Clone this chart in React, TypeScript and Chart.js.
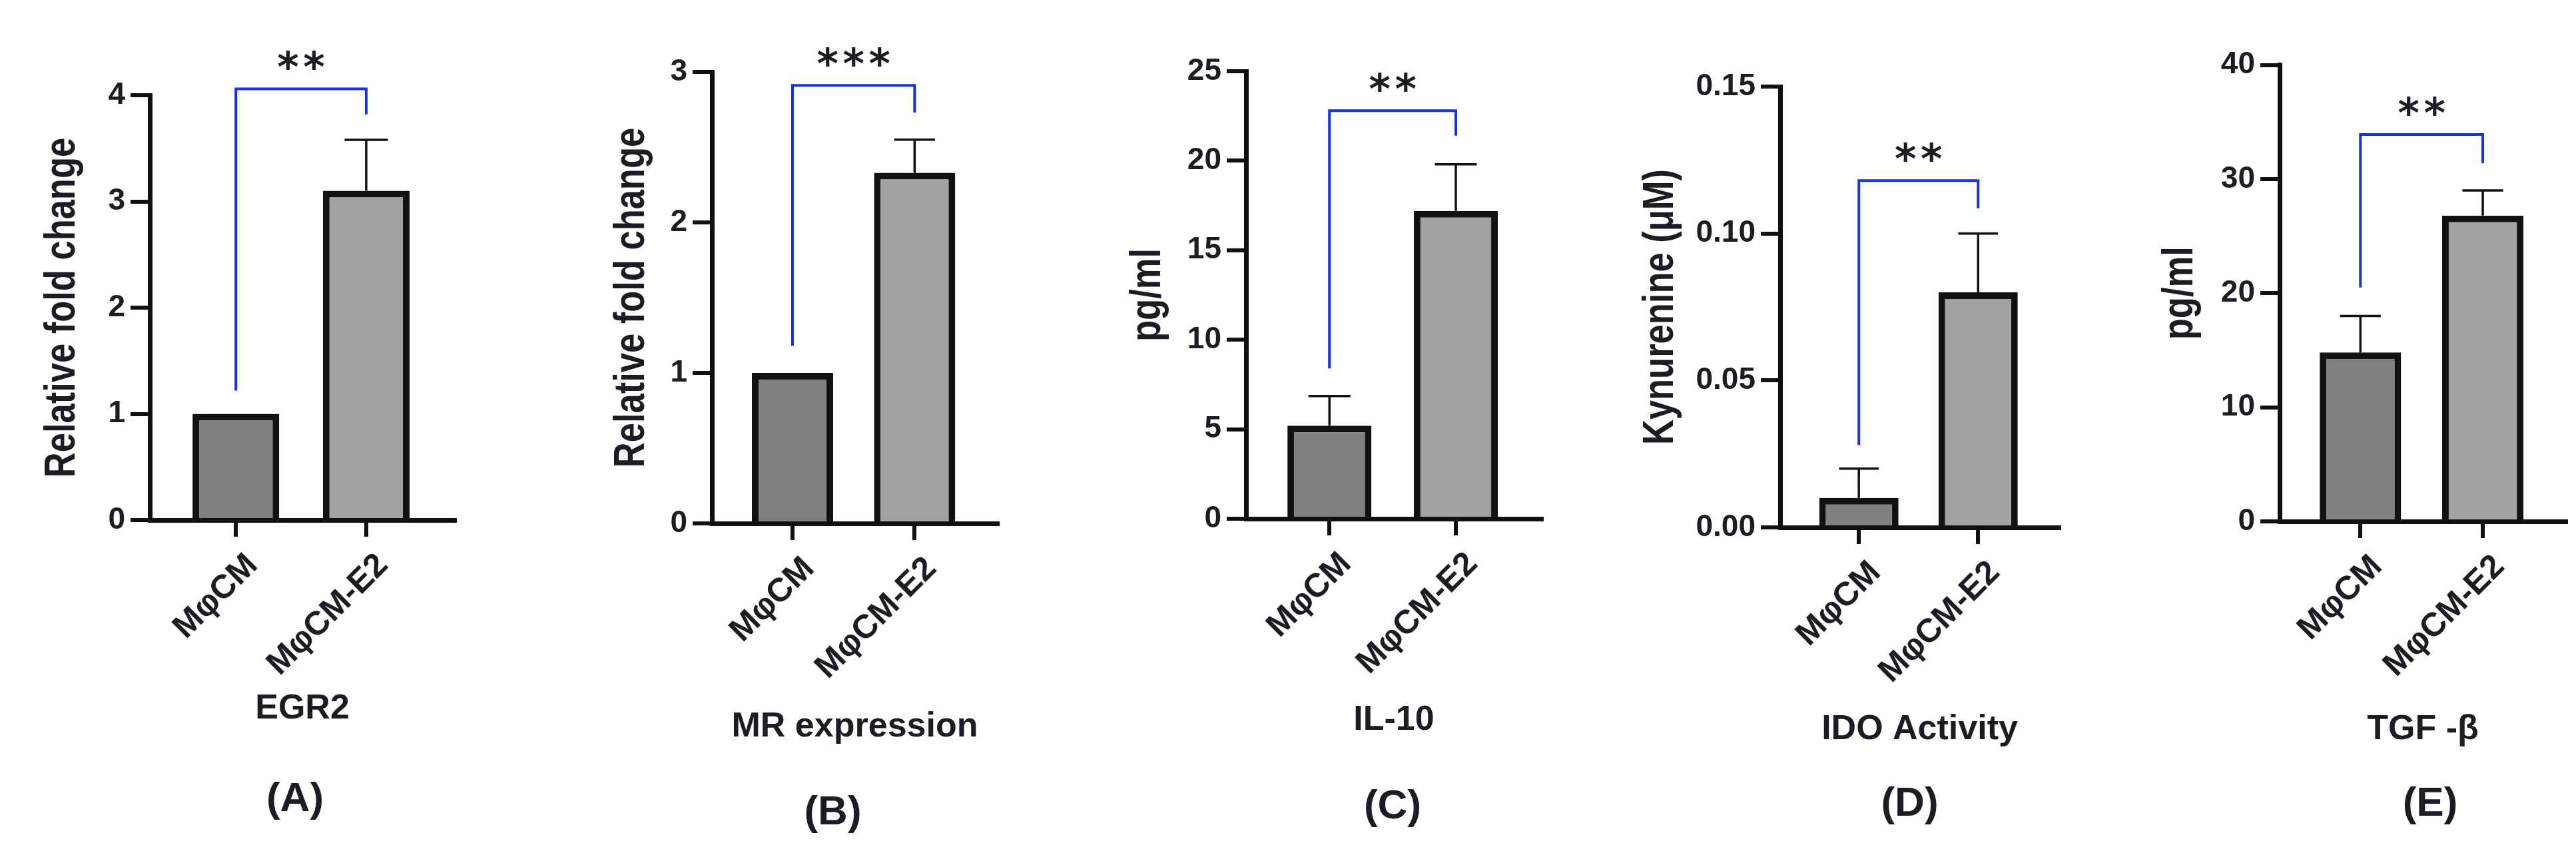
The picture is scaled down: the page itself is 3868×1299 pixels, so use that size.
import React, { useEffect, useRef } from 'react';
import { Chart, registerables } from 'chart.js';

Chart.register(...registerables);

// ---------------- data ----------------
const categories = ['MφCM', 'MφCM-E2'];

const egr2Mean = [1.0, 3.1];
const egr2Err = [0, 0.48];
const egr2Ticks = [0, 1, 2, 3, 4];
const egr2TickLabels = ['0', '1', '2', '3', '4'];
const egr2Bracket = [1.22, 4.06, 3.82]; // left leg end, top, right leg end
const egr2Stars = '**';

const mrMean = [1.0, 2.33];
const mrErr = [0, 0.22];
const mrTicks = [0, 1, 2, 3];
const mrTickLabels = ['0', '1', '2', '3'];
const mrBracket = [1.18, 2.91, 2.73];
const mrStars = '***';

const il10Mean = [5.2, 17.2];
const il10Err = [1.65, 2.6];
const il10Ticks = [0, 5, 10, 15, 20, 25];
const il10TickLabels = ['0', '5', '10', '15', '20', '25'];
const il10Bracket = [8.4, 22.8, 21.4];
const il10Stars = '**';

const idoMean = [0.01, 0.08];
const idoErr = [0.01, 0.02];
const idoTicks = [0, 0.05, 0.1, 0.15];
const idoTickLabels = ['0.00', '0.05', '0.10', '0.15'];
const idoBracket = [0.028, 0.118, 0.1086];
const idoStars = '**';

const tgfMean = [14.8, 26.8];
const tgfErr = [3.2, 2.2];
const tgfTicks = [0, 10, 20, 30, 40];
const tgfTickLabels = ['0', '10', '20', '30', '40'];
const tgfBracket = [20.5, 33.9, 31.4];
const tgfStars = '**';

const yTitles = ['Relative fold change', 'Relative fold change', 'pg/ml', 'Kynurenine (μM)', 'pg/ml'];
const xTitles = ['EGR2', 'MR expression', 'IL-10', 'IDO Activity', 'TGF -β'];
const panelLetters = ['(A)', '(B)', '(C)', '(D)', '(E)'];

// ---------------- layout / style ----------------
const W = 3868;
const H = 1299;
const INK = '#1c1c24';
const AXIS = '#111111';
const BLUE = '#1733e2';
const FILLS = ['#808080', '#a2a2a4'];

type Layout = {
  left: number; width: number; axisX: number; topY: number; baseY: number; rightX: number;
  yTitleDx: number; xTitleY: number; letterDx: number; letterY: number;
};

const layouts: Layout[] = [
  { left: 0, width: 760, axisX: 225, topY: 143, baseY: 781, rightX: 683, yTitleDx: -131, xTitleY: 1065, letterDx: -11, letterY: 1201 },
  { left: 760, width: 800, axisX: 1069, topY: 108, baseY: 786, rightX: 1498, yTitleDx: -120, xTitleY: 1092, letterDx: -33, letterY: 1221 },
  { left: 1560, width: 770, axisX: 1871, topY: 107, baseY: 779, rightX: 2315, yTitleDx: -147, xTitleY: 1082, letterDx: -2, letterY: 1212 },
  { left: 2330, width: 780, axisX: 2673, topY: 130, baseY: 792, rightX: 3092, yTitleDx: -179, xTitleY: 1096, letterDx: -15, letterY: 1208 },
  { left: 3110, width: 758, axisX: 3423, topY: 97.5, baseY: 783, rightX: 3853, yTitleDx: -149, xTitleY: 1096, letterDx: 11, letterY: 1208 },
];

type PanelData = {
  mean: number[]; err: number[]; ticks: number[]; tickLabels: string[];
  bracket: number[]; stars: string;
};

const panelData: PanelData[] = [
  { mean: egr2Mean, err: egr2Err, ticks: egr2Ticks, tickLabels: egr2TickLabels, bracket: egr2Bracket, stars: egr2Stars },
  { mean: mrMean, err: mrErr, ticks: mrTicks, tickLabels: mrTickLabels, bracket: mrBracket, stars: mrStars },
  { mean: il10Mean, err: il10Err, ticks: il10Ticks, tickLabels: il10TickLabels, bracket: il10Bracket, stars: il10Stars },
  { mean: idoMean, err: idoErr, ticks: idoTicks, tickLabels: idoTickLabels, bracket: idoBracket, stars: idoStars },
  { mean: tgfMean, err: tgfErr, ticks: tgfTicks, tickLabels: tgfTickLabels, bracket: tgfBracket, stars: tgfStars },
];

function overlayPlugin(idx: number) {
  const d = panelData[idx];
  const L = layouts[idx];
  return {
    id: 'overlay' + idx,
    afterDraw(chart: any) {
      const ctx: CanvasRenderingContext2D = chart.ctx;
      const xs = chart.scales.x;
      const ys = chart.scales.y;
      const area = chart.chartArea;
      const meta = chart.getDatasetMeta(0);
      ctx.save();

      // error bars (upper only)
      ctx.strokeStyle = AXIS;
      ctx.lineWidth = 3.5;
      ctx.lineCap = 'butt';
      d.mean.forEach((m, i) => {
        const e = d.err[i];
        if (!e) return;
        const el = meta.data[i];
        const cx = xs.getPixelForValue(i + 1);
        const y0 = ys.getPixelForValue(m);
        const y1 = ys.getPixelForValue(m + e);
        const half = el.width * 0.25;
        ctx.beginPath();
        ctx.moveTo(cx, y0);
        ctx.lineTo(cx, y1);
        ctx.moveTo(cx - half, y1);
        ctx.lineTo(cx + half, y1);
        ctx.stroke();
      });

      // significance bracket
      const xA = xs.getPixelForValue(1);
      const xB = xs.getPixelForValue(2);
      const yL = ys.getPixelForValue(d.bracket[0]);
      const yT = ys.getPixelForValue(d.bracket[1]);
      const yR = ys.getPixelForValue(d.bracket[2]);
      ctx.strokeStyle = BLUE;
      ctx.lineWidth = 4;
      ctx.lineJoin = 'miter';
      ctx.beginPath();
      ctx.moveTo(xA, yL);
      ctx.lineTo(xA, yT);
      ctx.lineTo(xB, yT);
      ctx.lineTo(xB, yR);
      ctx.stroke();

      // stars
      ctx.fillStyle = INK;
      ctx.font = 'bold 62px "DejaVu Sans"';
      ctx.textAlign = 'center';
      ctx.textBaseline = 'alphabetic';
      const m = ctx.measureText('*');
      const starOff = (m.actualBoundingBoxAscent - m.actualBoundingBoxDescent) / 2;
      const starY = yT - 43 + starOff;
      const n = d.stars.length;
      const gap = 39;
      const midX = (xA + xB) / 2;
      for (let i = 0; i < n; i++) {
        ctx.fillText(d.stars[i], midX + (i - (n - 1) / 2) * gap, starY);
      }

      // y title (condensed)
      ctx.save();
      ctx.translate(area.left + L.yTitleDx, (area.top + area.bottom) / 2);
      ctx.rotate(-Math.PI / 2);
      ctx.scale(0.82, 1);
      ctx.font = 'bold 64px "Liberation Sans"';
      ctx.textAlign = 'center';
      ctx.textBaseline = 'middle';
      ctx.fillText(yTitles[idx], 0, 0);
      ctx.restore();

      // x title
      const cx = (area.left + area.right) / 2;
      ctx.font = 'bold 52px "Liberation Sans"';
      ctx.textAlign = 'center';
      ctx.textBaseline = 'middle';
      ctx.fillText(xTitles[idx], cx, L.xTitleY);

      // panel letter
      ctx.font = 'bold 62px "Liberation Sans"';
      ctx.fillText(panelLetters[idx], cx + L.letterDx, L.letterY);

      ctx.restore();
    },
  };
}

function buildConfig(idx: number): any {
  const d = panelData[idx];
  const L = layouts[idx];
  const tickFont = { family: '"Liberation Sans"', weight: 'bold' as const, size: 46 };
  return {
    type: 'bar',
    data: {
      datasets: [
        {
          data: d.mean.map((v, i) => ({ x: i + 1, y: v })),
          backgroundColor: FILLS,
          borderColor: AXIS,
          borderWidth: 10,
          borderSkipped: 'start',
          barPercentage: 0.665,
          categoryPercentage: 1,
        },
      ],
    },
    options: {
      animation: false,
      responsive: false,
      devicePixelRatio: 1,
      layout: { padding: { left: 0, top: L.topY, right: L.width - (L.rightX - L.left), bottom: 0 } },
      plugins: { legend: { display: false }, tooltip: { enabled: false } },
      scales: {
        x: {
          type: 'linear',
          min: 0.34,
          max: 2.68,
          bounds: 'data',
          offset: false,
          afterFit: (s: any) => { s.height = H - L.baseY; },
          afterBuildTicks: (s: any) => { s.ticks = categories.map((_, i) => ({ value: i + 1 })); },
          ticks: {
            callback: (v: number) => categories[Math.round(v) - 1],
            font: { family: '"Liberation Sans"', weight: 'bold', size: 50 },
            color: INK,
            minRotation: 45,
            maxRotation: 45,
            autoSkip: false,
            padding: 14,
            labelOffset: 25,
          },
          grid: { drawOnChartArea: false, drawTicks: true, tickLength: 25, lineWidth: 6, color: AXIS, offset: false },
          border: { display: true, width: 7, color: AXIS },
        },
        y: {
          type: 'linear',
          min: 0,
          max: d.ticks[d.ticks.length - 1],
          bounds: 'data',
          afterFit: (s: any) => { s.width = L.axisX - L.left; },
          afterBuildTicks: (s: any) => { s.ticks = d.ticks.map((v) => ({ value: v })); },
          ticks: {
            callback: (_v: number, i: number) => d.tickLabels[i],
            font: tickFont,
            color: INK,
            padding: 8,
            autoSkip: false,
          },
          grid: { drawOnChartArea: false, drawTicks: true, tickLength: 29, lineWidth: 6, color: AXIS },
          border: { display: true, width: 7, color: AXIS },
        },
      },
    },
    plugins: [overlayPlugin(idx)],
  };
}

function Panel({ idx }: { idx: number }) {
  const ref = useRef<HTMLCanvasElement | null>(null);
  const L = layouts[idx];
  useEffect(() => {
    const chart = new Chart(ref.current as HTMLCanvasElement, buildConfig(idx));
    return () => chart.destroy();
  }, [idx]);
  return (
    <canvas
      ref={ref}
      width={L.width}
      height={H}
      style={{ position: 'absolute', left: L.left, top: 0, width: L.width, height: H }}
    />
  );
}

export default function App() {
  return (
    <div style={{ position: 'absolute', left: 0, top: 0, width: W, height: H, background: '#ffffff', overflow: 'hidden' }}>
      {layouts.map((_, i) => (
        <Panel key={i} idx={i} />
      ))}
    </div>
  );
}
